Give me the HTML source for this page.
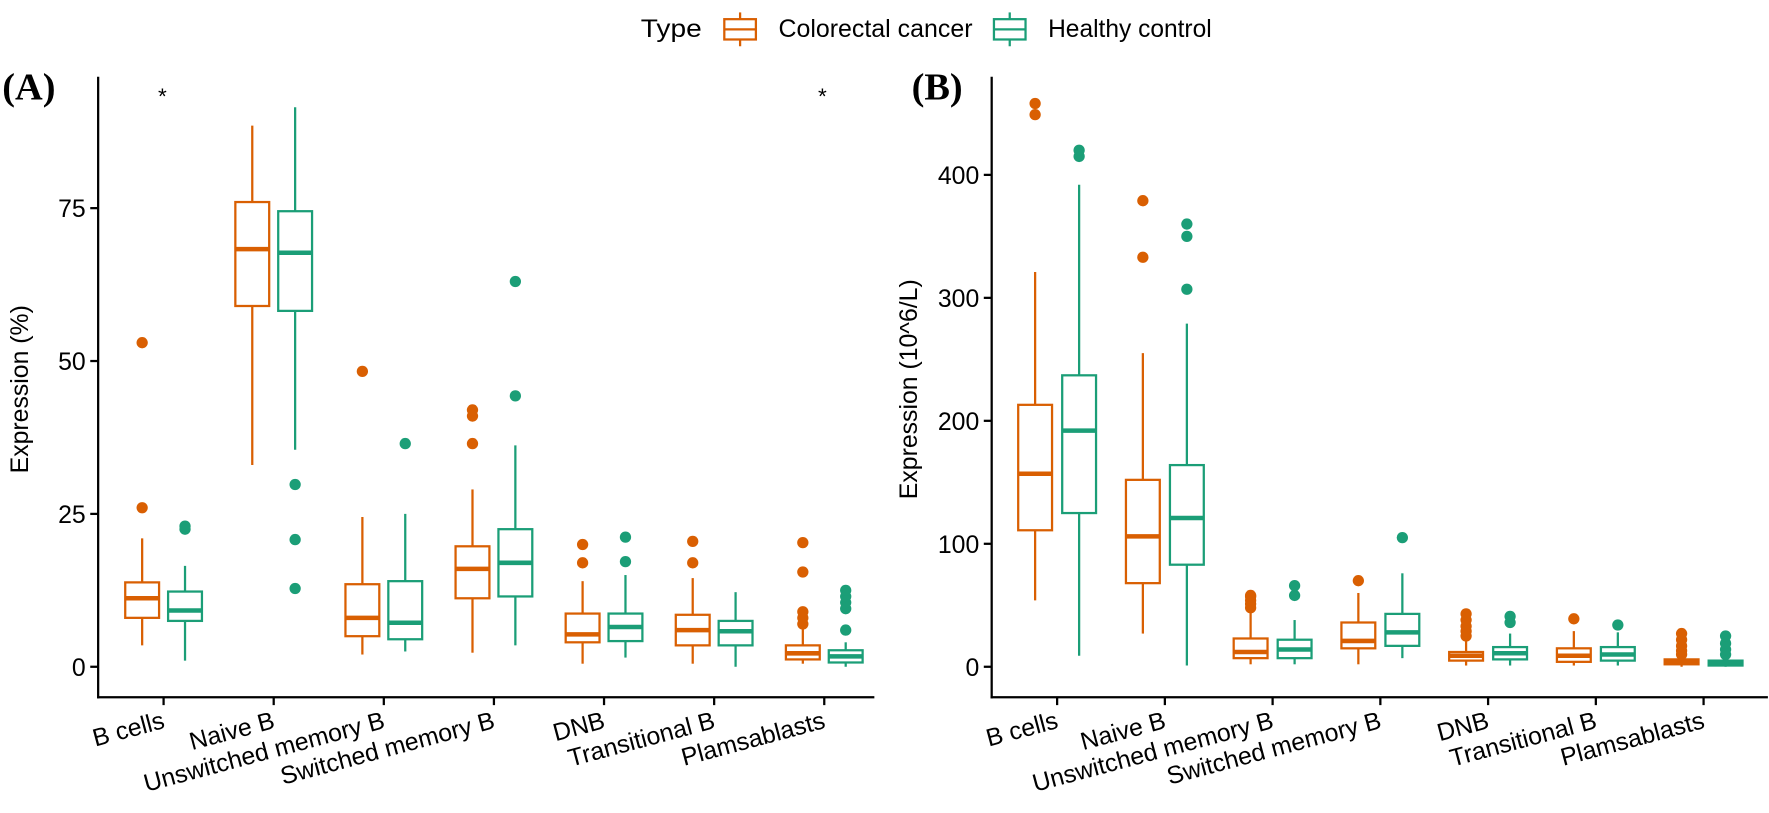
<!DOCTYPE html>
<html><head><meta charset="utf-8"><style>
body{margin:0;background:#fff;width:1769px;height:808px;overflow:hidden}
svg text{font-family:"Liberation Sans",sans-serif}
</style></head><body>
<svg width="1769" height="808" xmlns="http://www.w3.org/2000/svg"><g id="s" transform="scale(1.1282)"></g></svg>
<script>
const O="#D95F02",G="#1B9E77";
let h="";
function ln(x1,y1,x2,y2,c,w){h+=`<line x1="${x1}" y1="${y1}" x2="${x2}" y2="${y2}" stroke="${c}" stroke-width="${w}"/>`;}
function tx(x,y,t,o){h+=`<text x="${x}" y="${y}" ${o||""}>${t}</text>`;}
function box(cx,Y,d,c){const [lo,q1,md,q3,hi,out]=d,w=30,l=cx-w/2;
 ln(cx,Y(hi),cx,Y(q3),c,2);ln(cx,Y(q1),cx,Y(lo),c,2);
 h+=`<rect x="${l}" y="${Y(q3)}" width="${w}" height="${Y(q1)-Y(q3)}" fill="#fff" stroke="${c}" stroke-width="2"/>`;
 ln(l,Y(md),l+w,Y(md),c,4);
 out.forEach(v=>h+=`<circle cx="${cx}" cy="${Y(v)}" r="5" fill="${c}"/>`);}
const cats=["B cells","Naive B","Unswitched memory B","Switched memory B","DNB","Transitional B","Plamsablasts"];
function panel(ax,x0,sp,off,Y,ticks,crc,hc,title,xend,tdx){
 ln(ax,68,ax,619,"#000",2);ln(ax-1,618,xend,618,"#000",2);
 ticks.forEach(t=>{ln(ax-7,Y(t),ax,Y(t),"#000",2);tx(ax-11,Y(t)+8,t,'font-size="22" text-anchor="end"');});
 cats.forEach((c,i)=>{const cx=x0+i*sp;ln(cx,618,cx,625,"#000",2);
  tx(cx+2,645,c,`font-size="22" text-anchor="end" transform="rotate(-15 ${cx+2} 645)"`);
  box(cx-off,Y,crc[i],O);box(cx+off,Y,hc[i],G);});
 tx(ax-tdx,345,title,`font-size="22" text-anchor="middle" transform="rotate(-90 ${ax-tdx} 345)"`);
}
const YA=v=>591-5.42*v, YB=v=>591-1.09*v;
panel(87,145,97.6,19,YA,[0,25,50,75],
[[3.5,8,11.2,13.8,21,[26,53]],[33,59,68.3,76,88.5,[]],[2,5,8,13.5,24.5,[48.3]],[2.3,11.2,16,19.7,29,[36.5,41,42]],[0.5,4,5.3,8.7,14,[17,20]],[0.5,3.5,6,8.5,14.5,[17,20.5]],[0.5,1.2,2.2,3.5,6.5,[7,8,9,15.5,20.3]]],
[[1,7.5,9.2,12.3,16.5,[22.5,23]],[35.5,58.2,67.7,74.5,91.5,[29.8,20.8,12.8]],[2.5,4.5,7.2,14,25,[36.5]],[3.5,11.5,17,22.5,36.2,[44.3,63]],[1.5,4.2,6.5,8.7,15,[17.2,21.2]],[0,3.5,5.8,7.5,12.2,[]],[0,0.7,1.7,2.7,4,[6,9.5,10.5,11.5,12.5]]],
"Expression (%)",775,62);
panel(879,937,95.5,19.5,YB,[0,100,200,300,400],
[[54,111,157,213,321,[449,458]],[27,68,106,152,255,[333,379]],[2,7,12,23,45,[48,51,54,57,58]],[2,15,21,36,60,[70]],[1,5,9,12,22,[25,29,33,38,43]],[1,4,9,15,29,[39]],[0,2,4,6,8,[10,13,17,22,27]]],
[[9,125,192,237,392,[415,420]],[1,83,121,164,279,[307,350,360]],[2,7,14,22,38,[58,66]],[7,17,28,43,76,[105]],[1,6,11,16,27,[36,41]],[1,5,10,16,28,[34]],[0,1,3,5,6,[10,14,19,25]]],
"Expression (10^6/L)",1567,66);
tx(140,92,"*",'font-size="20"');tx(725,92,"*",'font-size="20"');
tx(2,88,"(A)",'font-size="34" font-weight="bold" style="font-family:\'Liberation Serif\',serif"');
tx(808,88,"(B)",'font-size="34" font-weight="bold" style="font-family:\'Liberation Serif\',serif"');
tx(568,33,"Type",'font-size="22" textLength="54" lengthAdjust="spacingAndGlyphs"');
function key(x,c){ln(x+14,11,x+14,41,c,2);h+=`<rect x="${x}" y="17" width="28" height="18" fill="#fff" stroke="${c}" stroke-width="2"/>`;ln(x,26,x+28,26,c,2);}
key(642,O);tx(690,33,"Colorectal cancer",'font-size="22" textLength="172" lengthAdjust="spacingAndGlyphs"');
key(881,G);tx(929,33,"Healthy control",'font-size="22" textLength="145" lengthAdjust="spacingAndGlyphs"');
document.getElementById("s").innerHTML=h;
</script>
</body></html>
